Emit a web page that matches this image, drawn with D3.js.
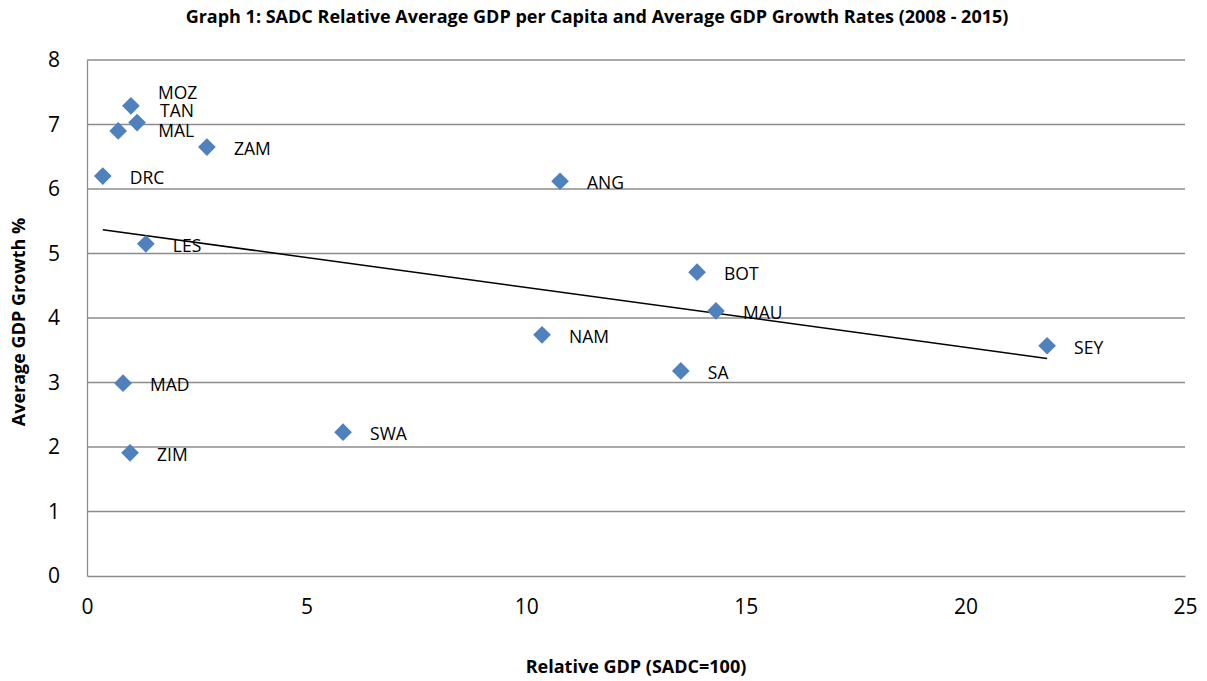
<!DOCTYPE html>
<html>
<head>
<meta charset="utf-8">
<script src="https://cdn.jsdelivr.net/npm/d3@7"></script>
<style>
  body { margin: 0; background: #fff; }
  text { font-family: "Open Sans", "Liberation Sans", sans-serif; }
</style>
</head>
<body>
<svg id="chart"></svg>
<script>
// values
const countries = ['MOZ', 'TAN', 'MAL', 'ZAM', 'DRC', 'ANG', 'LES', 'BOT', 'MAU', 'NAM', 'SEY', 'SA', 'MAD', 'SWA', 'ZIM'];
const relGdp = [1.00, 1.14, 0.71, 2.73, 0.36, 10.77, 1.34, 13.89, 14.32, 10.36, 21.86, 13.52, 0.82, 5.83, 0.98];
const growth = [7.29, 7.03, 6.90, 6.65, 6.20, 6.12, 5.15, 4.71, 4.11, 3.74, 3.57, 3.18, 2.99, 2.23, 1.91];
const xTicks = [0, 5, 10, 15, 20, 25];
const yTicks = [0, 1, 2, 3, 4, 5, 6, 7, 8];

const width = 1207, height = 681;
const margin = { top: 60, right: 22, bottom: 105, left: 87 };

const data = countries.map((c, i) => ({ name: c, x: relGdp[i], y: growth[i] }));

const svg = d3.select('#chart')
  .attr('width', width)
  .attr('height', height);

const x = d3.scaleLinear().domain([0, 25]).range([margin.left, width - margin.right]);
const y = d3.scaleLinear().domain([0, 8]).range([height - margin.bottom, margin.top]);

// gridlines
svg.append('g')
  .selectAll('line')
  .data(yTicks.slice(1))
  .enter().append('line')
  .attr('x1', x(0)).attr('x2', x(25))
  .attr('y1', d => y(d)).attr('y2', d => y(d))
  .attr('stroke', '#8c8c8c')
  .attr('stroke-width', 1.3);

// axes
const yAxis = svg.append('g')
  .attr('transform', `translate(${x(0)},0)`)
  .call(d3.axisLeft(y).tickValues(yTicks).tickSize(0).tickPadding(27));
const xAxis = svg.append('g')
  .attr('transform', `translate(0,${y(0)})`)
  .call(d3.axisBottom(x).tickValues(xTicks).tickSize(0).tickPadding(23));
[xAxis, yAxis].forEach(a => {
  a.select('.domain').attr('stroke', '#8c8c8c').attr('stroke-width', 1.3);
  a.selectAll('text').attr('font-size', 21).attr('fill', '#000')
    .style('font-family', '"Open Sans", sans-serif');
});

// linear trendline (least squares)
const mx = d3.mean(data, d => d.x), my = d3.mean(data, d => d.y);
const slope = d3.sum(data, d => (d.x - mx) * (d.y - my)) / d3.sum(data, d => (d.x - mx) ** 2);
const icpt = my - slope * mx;
const [x0, x1] = d3.extent(relGdp);
svg.append('line')
  .attr('x1', x(x0)).attr('y1', y(icpt + slope * x0))
  .attr('x2', x(x1)).attr('y2', y(icpt + slope * x1))
  .attr('stroke', '#000')
  .attr('stroke-width', 1.5);

// markers
svg.append('g')
  .selectAll('path')
  .data(data)
  .enter().append('path')
  .attr('d', d3.symbol().type(d3.symbolDiamond2).size(200))
  .attr('transform', d => `translate(${x(d.x)},${y(d.y)})`)
  .attr('fill', '#4f81bd');

// labels; the crowded ones top-left were moved by hand in the original
const nudge = { MOZ: [27, -13], TAN: [23, -12], MAL: [40, 0] };
svg.append('g')
  .selectAll('text')
  .data(data)
  .enter().append('text')
  .attr('x', d => x(d.x) + (nudge[d.name] ? nudge[d.name][0] : 27))
  .attr('y', d => y(d.y) + (nudge[d.name] ? nudge[d.name][1] : 2))
  .attr('dy', '0.35em')
  .attr('font-size', 17.5)
  .text(d => d.name);

// title and axis titles
svg.append('text')
  .attr('x', 597).attr('y', 23)
  .attr('text-anchor', 'middle')
  .attr('font-size', 18)
  .attr('font-weight', 'bold')
  .text('Graph 1: SADC Relative Average GDP per Capita and Average GDP Growth Rates (2008 - 2015)');

svg.append('text')
  .attr('x', 636).attr('y', 673)
  .attr('text-anchor', 'middle')
  .attr('font-size', 18)
  .attr('font-weight', 'bold')
  .text('Relative GDP (SADC=100)');

svg.append('text')
  .attr('transform', 'translate(25,322) rotate(-90)')
  .attr('text-anchor', 'middle')
  .attr('font-size', 18)
  .attr('font-weight', 'bold')
  .text('Average GDP Growth %');
</script>
</body>
</html>
